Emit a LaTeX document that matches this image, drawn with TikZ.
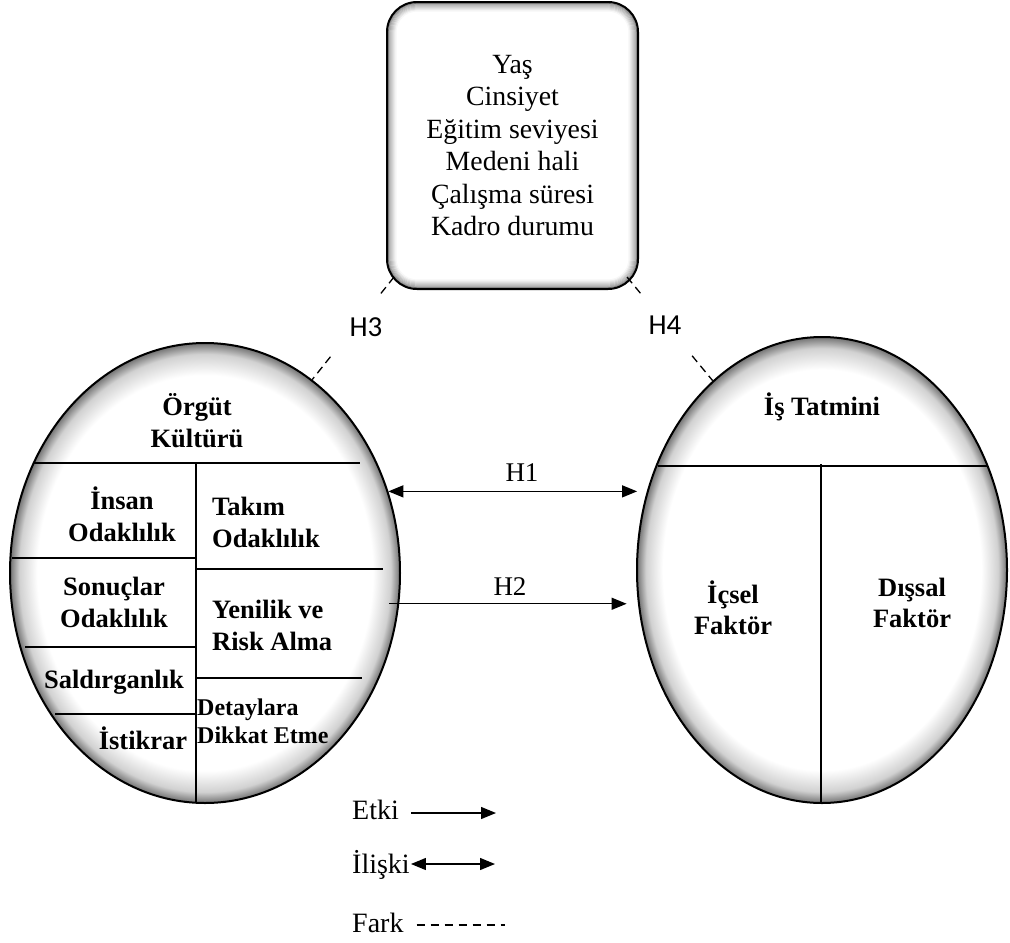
\documentclass[tikz,border=0pt]{standalone}
\usepackage{fontspec}
\setmainfont{Liberation Serif}
\newfontfamily\hfont{Carlito}
\usetikzlibrary{shapes.geometric,arrows.meta,calc}
\pgfdeclareradialshading{ringshade}{\pgfpoint{0bp}{0bp}}{color(0bp)=(white); color(21.5bp)=(white); color(23.8bp)=(black!18); color(25bp)=(black!55); color(50bp)=(black!55)}
\begin{document}
\begin{tikzpicture}[x=1pt,y=-1pt,
  ellst/.style={ellipse, draw, line width=2pt, shade, shading=ringshade, inner sep=0pt},
  boxst/.style={draw, line width=2pt, fill=white, rounded corners=30pt, minimum width=249pt, minimum height=285pt, inner sep=0pt, align=center, font={\fontsize{27.8}{32.5}\selectfont}},
  lab/.style={inner sep=0pt, align=center, font={\fontsize{26.5}{32}\selectfont\bfseries}},
  labl/.style={inner sep=0pt, align=left, anchor=west, font={\fontsize{26.5}{32}\selectfont\bfseries}},
  hyp/.style={inner sep=0pt, font={\fontsize{27}{30}\selectfont}},
  hyps/.style={inner sep=0pt, font={\hfont\fontsize{29}{30}\selectfont}},
  leg/.style={inner sep=0pt, anchor=west, font={\fontsize{28}{30}\selectfont}},
  arr/.style={-{Triangle[length=15pt,width=12pt]}, line width=1.3pt},
  darr/.style={{Triangle[length=15pt,width=12pt]}-{Triangle[length=15pt,width=12pt]}, line width=1.3pt},
  dsh/.style={dash pattern=on 8pt off 5pt, line width=1.3pt},
  legdash/.style={dash pattern=on 8pt off 6pt, line width=1.2pt},
  thin/.style={line width=1.1pt}
]
\useasboundingbox (0,0) rectangle (1010,943);

% top box
\node[boxst] (box) at (512.5,145.5) {Yaş\\Cinsiyet\\Eğitim seviyesi\\Medeni hali\\Çalışma süresi\\Kadro durumu};
\foreach \i in {1,...,9}{
  \pgfmathtruncatemacro\c{48-5*\i}
  \draw[black!\c, line width=1.1pt, rounded corners={(30-\i)*1pt}]
    ($(box.south west)+(\i,-\i)$) rectangle ($(box.north east)+(-\i,\i)$);
}
\draw[line width=2pt, rounded corners=30pt] (box.south west) rectangle (box.north east);

% ellipses
\node[ellst, minimum width=390pt, minimum height=460pt] (OK) at (205,573) {};
\node[ellst, minimum width=370pt, minimum height=466pt] (IT) at (822,570) {};

% left ellipse divisions
\draw[thin] (33,463) -- (360,463);
\draw[thin] (196,463) -- (196,803);
\draw[thin] (12,558) -- (196,558);
\draw[thin] (25,647) -- (196,647);
\draw[thin] (55,714) -- (196,714);
\draw[thin] (196,569) -- (383,569);
\draw[thin] (196,678) -- (362,678);

% right ellipse divisions
\draw[thin] (658,466) -- (987,466);
\draw[thin] (821,464) -- (821,803);

% left texts
\node[lab] (t1) at (197,421) {Örgüt\\Kültürü};
\node[lab] (t2) at (122,514) {İnsan\\Odaklılık};
\node[labl] (t3) at (212,522) {Takım\\Odaklılık};
\node[lab] (t4) at (114,602) {Sonuçlar\\Odaklılık};
\node[labl] (t5) at (212,625) {Yenilik ve\\Risk Alma};
\node[lab] (t6) at (114,682) {Saldırganlık};
\node[lab] (t7) at (143,738) {İstikrar};
\node[labl, font={\fontsize{24}{28}\selectfont\bfseries}] (t8) at (197,721) {Detaylara\\Dikkat Etme};

% right texts
\node[lab] (r1) at (822,407) {İş Tatmini};
\node[lab, font={\fontsize{26.5}{31}\selectfont\bfseries}] (r2) at (733,608) {İçsel\\Faktör};
\node[lab, font={\fontsize{26.5}{31}\selectfont\bfseries}] (r3) at (912,603) {Dışsal\\Faktör};

% H1, H2
\draw[darr] (OK.24.8) -- ([xshift=-10.5pt]IT.155 |- OK.24.8);
\node[hyp] (h1) at (522,473) {H1};
\draw[arr] ([xshift=-10pt]OK.-9.7) -- ([xshift=-12pt]IT.-168.9 |- OK.-9.7);
\node[hyp] (h2) at (510,587) {H2};

% H3, H4 dashed
\coordinate (d3a) at ([shift={(7,-12)}]box.south west);
\coordinate (d3b) at (OK.61.7);
\draw[dsh] (d3a) -- ($(d3a)!0.165!(d3b)$) ($(d3a)!0.777!(d3b)$) -- (d3b);
\node[hyps] (h3) at (366,327) {H3};
\coordinate (d4a) at ([shift={(-11,-12)}]box.south east);
\coordinate (d4b) at (IT.120.6);
\draw[dsh] (d4a) -- ($(d4a)!0.16!(d4b)$) ($(d4a)!0.76!(d4b)$) -- (d4b);
\node[hyps] (h4) at (665,325) {H4};

% legend
\node[leg] (etki) at (352,810) {Etki};
\coordinate (etkiE) at (496,813);
\draw[arr] ([xshift=12pt]etki.east |- etkiE) -- (etkiE);
\node[leg] (ilis) at (352,865) {İlişki};
\coordinate (ilisE) at (495,864);
\draw[darr] ([xshift=1pt]ilis.east |- ilisE) -- (ilisE);
\node[leg] (fark) at (352,923) {Fark};
\coordinate (farkE) at (505,925);
\draw[legdash] ([xshift=13pt]fark.east |- farkE) -- (farkE);
\end{tikzpicture}
\end{document}
